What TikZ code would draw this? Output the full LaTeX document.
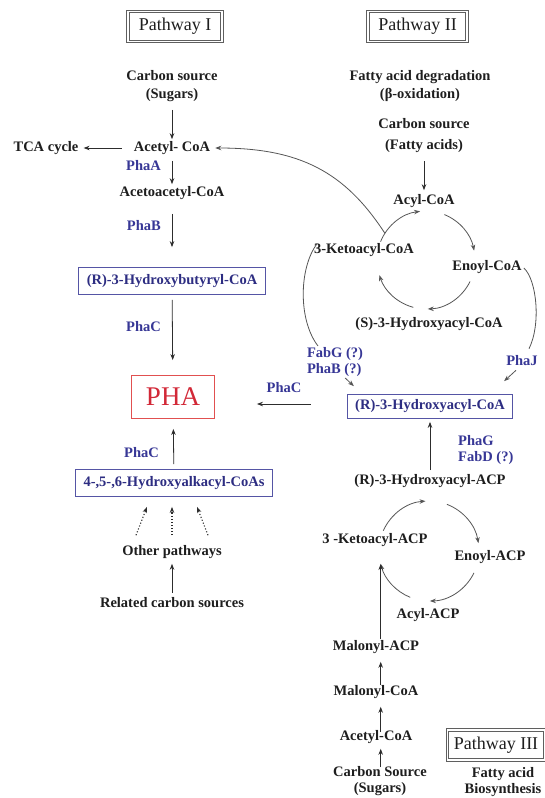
\documentclass[tikz,border=0pt]{standalone}
\usepackage{fontspec}
\setmainfont{Liberation Serif}
\usetikzlibrary{arrows.meta,calc}
\definecolor{txt}{RGB}{30,30,30}
\definecolor{lblue}{RGB}{55,55,150}
\definecolor{boxtxt}{RGB}{45,45,130}
\definecolor{bblue}{RGB}{85,85,165}
\definecolor{phared}{RGB}{210,40,55}
\definecolor{phaborder}{RGB}{225,80,80}
\definecolor{pwgray}{RGB}{95,95,95}
\definecolor{lin}{RGB}{45,45,45}
\definecolor{cyc}{RGB}{85,85,85}
\begin{document}
\begin{tikzpicture}[x=1pt,y=1pt,
  t/.style={font=\fontsize{14.5}{18}\selectfont\bfseries, text=txt, inner sep=2pt, align=center},
  lab/.style={font=\fontsize{14.5}{16.5}\selectfont\bfseries, text=lblue, inner sep=1pt, align=left},
  bx/.style={t, text=boxtxt, draw=bblue, line width=0.8pt, minimum height=27pt, inner xsep=8pt},
  pw/.style={font=\fontsize{18}{20}\selectfont, text=txt, draw=pwgray, line width=1pt, double=white, double distance=1.6pt, minimum width=94pt, minimum height=30pt},
  phabox/.style={font=\fontsize{27}{30}\selectfont, text=phared, draw=phaborder, line width=0.9pt, minimum width=83pt, minimum height=43pt},
  arr/.style={draw=lin, line width=0.8pt, -{Stealth[length=6pt,width=4.5pt]}},
  carr/.style={draw=cyc, line width=0.8pt, -{Stealth[length=6pt,width=4.5pt]}},
  ln/.style={draw=cyc, line width=0.8pt},
  dotarr/.style={draw=lin, dotted, line width=1.1pt, -{Stealth[length=6pt,width=4.5pt]}},
]
\useasboundingbox (0,0) rectangle (545,-798);
\fill[white] (0,0) rectangle (545,-798);

% ---------------- Pathway I ----------------
\node[pw] (pw1) at (175,-26.5) {Pathway I};
\node[t] (cs1) at (172,-86) {Carbon source\\(Sugars)};
\node[t] (acl) at (172,-148) {Acetyl- CoA};
\node[t] (tca) at (46,-148) {TCA cycle};
\node[t] (aca) at (172,-193) {Acetoacetyl-CoA};
\node[bx] (hb) at (172,-281) {(R)-3-Hydroxybutyryl-CoA};
\node[phabox] (pha) at (173,-397) {PHA};
\node[bx] (ha) at (174,-483) {4-,5-,6-Hydroxyalkacyl-CoAs};
\node[t] (op) at (172,-552) {Other pathways};
\node[t] (rcs) at (172,-603) {Related carbon sources};

\node[lab, anchor=east] (phaA) at (162,-166) {PhaA};
\node[lab, anchor=east] (phaB) at (162,-226) {PhaB};
\node[lab, anchor=east] (phaC1) at (162,-327) {PhaC};
\node[lab, anchor=east] (phaC3) at (160,-453) {PhaC};
\node[lab] (phaC2) at (284,-388) {PhaC};

\draw[arr, shorten <=6pt] (cs1) -- (acl);
\draw[arr, shorten <=10pt, shorten >=3pt] (acl) -- (tca);
\draw[arr, shorten <=4pt] (acl) -- (aca);
\draw[arr, shorten <=12pt, shorten >=20pt] (aca) -- (hb);
\draw[arr, shorten <=5pt, shorten >=15pt] (hb) -- (pha);
\draw[arr, shorten <=5pt, shorten >=10pt] (ha) -- (pha);
\draw[arr, shorten <=3pt, shorten >=3pt] (rcs) -- (op);
\draw[dotarr] ($(op.north)+(-36,8)$) -- ($(ha.south)+(-27,-10)$);
\draw[dotarr] ($(op.north)+(0,8)$) -- ($(ha.south)+(-2,-10)$);
\draw[dotarr] ($(op.north)+(36,8)$) -- ($(ha.south)+(23,-10)$);

% ---------------- Pathway II ----------------
\node[pw, minimum width=99pt] (pw2) at (417.5,-26.5) {Pathway II};
\node[t] (fad) at (420,-86) {Fatty acid degradation\\(β-oxidation)};
\node[t, font=\fontsize{14.5}{21}\selectfont\bfseries] (cs2) at (424,-136) {Carbon source\\(Fatty acids)};
\node[t] (acyl) at (424,-201) {Acyl-CoA};
\node[t] (keto) at (364,-250) {3-Ketoacyl-CoA};
\node[t] (enoyl) at (487,-267) {Enoyl-CoA};
\node[t] (shc) at (429,-324) {(S)-3-Hydroxyacyl-CoA};
\node[bx, minimum height=24pt] (rhc) at (430,-406.5) {(R)-3-Hydroxyacyl-CoA};
\node[lab] (fab) at (335,-362) {FabG (?)\\PhaB (?)};
\node[lab] (phaJ) at (522,-361) {PhaJ};

\draw[arr, shorten <=6pt, shorten >=2pt] (cs2) -- (acyl);

\coordinate (c1) at (426,-260);
\draw[carr] ($(c1)+(158:49)$) arc[start angle=158, end angle=97, radius=49];
\draw[carr] ($(c1)+(68:49)$) arc[start angle=68, end angle=11, radius=49];
\draw[carr] ($(c1)+(-26:49)$) arc[start angle=-26, end angle=-88, radius=49];
\draw[carr] ($(c1)+(-105:49)$) arc[start angle=-105, end angle=-162, radius=49];

% 3-ketoacyl-CoA -> acetyl-CoA
\coordinate (kb) at ($(c1)+(147:49)$);
\draw[carr, shorten >=3pt] (kb) .. controls (345,-172) and (300,-148) .. (acl.east);
% 3-ketoacyl-CoA -> (R)-3-hydroxyacyl-CoA (FabG / PhaB)
\coordinate (k1) at ($(keto.west)+(5,6)$);
\coordinate (k2) at ($(fab.north)+(-17,0)$);
\draw[ln] (k1) .. controls (299,-268) and (298,-320) .. (k2);
\coordinate (f1) at ($(fab.south east)+(-19,0)$);
\coordinate (f2) at ($(rhc.north west)+(7,8)$);
\draw[carr] (f1) -- (f2);
% enoyl-CoA -> (R)-3-hydroxyacyl-CoA (PhaJ)
\coordinate (e1) at ($(enoyl.east)+(0,-1)$);
\coordinate (e2) at ($(phaJ.north)+(7,6)$);
\draw[ln] (e1) .. controls (537,-280) and (541,-325) .. (e2);
\coordinate (j1) at ($(phaJ.south)+(-6,-3)$);
\coordinate (j2) at ($(rhc.north east)+(-9,13)$);
\draw[carr] (j1) -- (j2);
% (R)-3-hydroxyacyl-CoA -> PHA
\coordinate (p1) at ($(rhc.west)+(-36,2.5)$);
\coordinate (p2) at ($(pha.east)+(42,-7)$);
\draw[arr] (p1) -- (p2);

% ---------------- Pathway III ----------------
\node[lab, anchor=west] (phaG) at (457,-450) {PhaG\\FabD (?)};
\node[t] (rha) at (430,-481) {(R)-3-Hydroxyacyl-ACP};
\draw[arr, shorten <=2pt, shorten >=3pt] (rha) -- (rhc);

\node[t] (kacp) at (375,-540) {3 -Ketoacyl-ACP};
\node[t] (eacp) at (490,-557) {Enoyl-ACP};
\node[t] (aacp) at (428,-615) {Acyl-ACP};
\coordinate (c2) at (429,-551);
\draw[carr] ($(c2)+(156:50)$) arc[start angle=156, end angle=94, radius=50];
\draw[carr] ($(c2)+(69:50)$) arc[start angle=69, end angle=9, radius=50];
\draw[carr] ($(c2)+(-26:50)$) arc[start angle=-26, end angle=-89, radius=50];
\draw[carr] ($(c2)+(-112:50)$) arc[start angle=-112, end angle=-165, radius=50];
\coordinate (ke) at ($(c2)+(-165:50)$);

\node[t] (macp) at (376,-647) {Malonyl-ACP};
\node[t] (mcoa) at (376,-692) {Malonyl-CoA};
\node[t] (acoa2) at (376,-737) {Acetyl-CoA};
\node[t, font=\fontsize{14.5}{16}\selectfont\bfseries] (cs3) at (380,-781) {Carbon Source\\(Sugars)};
\draw[arr] ($(macp.north -| ke)+(0,-1)$) -- (ke);
\draw[arr] ($(mcoa.north -| ke)+(0,-2)$) -- ($(macp.south -| ke)+(0,-6)$);
\draw[arr] ($(acoa2.north -| ke)+(0,-4)$) -- ($(mcoa.south -| ke)+(0,-6)$);
\draw[arr] ($(cs3.north -| ke)+(0,-3)$) -- ($(acoa2.south -| ke)+(0,-3)$);

\node[pw, anchor=west, minimum width=97pt] (pw3) at (447,-745) {Pathway III};
\node[t, font=\fontsize{14.5}{15.5}\selectfont\bfseries] (fab2) at (503,-782) {Fatty acid\\Biosynthesis};
\end{tikzpicture}
\end{document}
